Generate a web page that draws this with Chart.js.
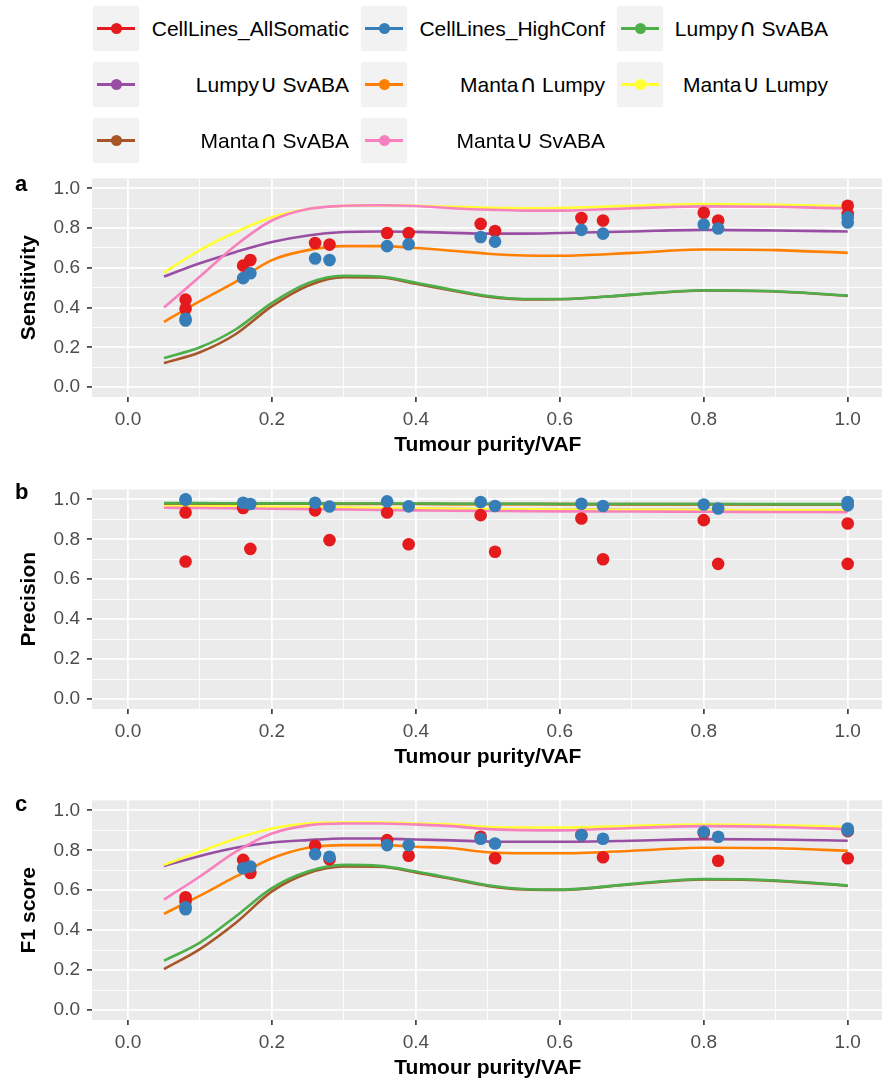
<!DOCTYPE html>
<html>
<head>
<meta charset="utf-8">
<script src="https://cdn.jsdelivr.net/npm/chart.js@4/dist/chart.umd.min.js"></script>
<style>
  html, body { margin: 0; padding: 0; background: #fff; overflow: hidden; }
  #fig { position: relative; width: 882px; height: 1080px; overflow: hidden;
         font-family: "Liberation Sans", Arial, Helvetica, sans-serif; }
  #fig canvas { position: absolute; left: 0; }
  .key { position: absolute; width: 46px; height: 45px; background: #F2F2F2; }
  .key .ln { position: absolute; left: 4px; right: 4px; top: 21px; height: 3px; }
  .key .pt { position: absolute; left: 18px; top: 17px; width: 11px; height: 11px; border-radius: 50%; }
  .lab { position: absolute; font-size: 21px; line-height: 21px; color: #000; white-space: nowrap; }
  .lab .sym { font-family: "DejaVu Sans", sans-serif; font-size: 24px; line-height: 21px; margin: 0 5px 0 1px; }
  .tag { position: absolute; font-weight: bold; font-size: 22px; line-height: 22px; color: #000; }
</style>
</head>
<body>
<div id="fig">
  <canvas id="panelA" width="890" height="302"></canvas>
  <canvas id="panelB" width="890" height="303"></canvas>
  <canvas id="panelC" width="890" height="303"></canvas>
</div>
<script>
// ---- series names and colours (ColorBrewer Set1) ----
const seriesNames = [
  "CellLines_AllSomatic", "CellLines_HighConf", "Lumpy\u2229SvABA",
  "Lumpy\u222ASvABA", "Manta\u2229Lumpy", "Manta\u222ALumpy",
  "Manta\u2229SvABA", "Manta\u222ASvABA"
];
const seriesColors = ["#E41A1C", "#377EB8", "#4DAF4A", "#984EA3", "#FF7F00", "#FFFF33", "#A65628", "#F781BF"];

// ---- axis ticks ----
const tickValues = [0, 0.1, 0.2, 0.3, 0.4, 0.5, 0.6, 0.7, 0.8, 0.9, 1.0];
const majorTicks = [0, 0.2, 0.4, 0.6, 0.8, 1.0];

// ---- cell line measurements ----
const purity = [0.08, 0.08, 0.16, 0.17, 0.26, 0.28, 0.36, 0.39, 0.49, 0.51, 0.63, 0.66, 0.80, 0.82, 1.0, 1.0];

const sensAllSomatic = [0.440, 0.394, 0.611, 0.639, 0.725, 0.717, 0.775, 0.775, 0.821, 0.785, 0.851, 0.838, 0.877, 0.838, 0.912, 0.871];
const sensHighConf   = [0.344, 0.335, 0.548, 0.573, 0.647, 0.639, 0.709, 0.719, 0.755, 0.732, 0.791, 0.772, 0.818, 0.798, 0.854, 0.828];

const precAllSomatic = [0.934, 0.689, 0.957, 0.752, 0.945, 0.796, 0.934, 0.775, 0.921, 0.738, 0.904, 0.700, 0.896, 0.677, 0.879, 0.677];
const precHighConf   = [1.000, 0.998, 0.983, 0.977, 0.983, 0.964, 0.990, 0.965, 0.987, 0.967, 0.978, 0.967, 0.974, 0.954, 0.987, 0.970];

const f1AllSomatic = [0.565, 0.545, 0.752, 0.686, 0.823, 0.755, 0.851, 0.773, 0.868, 0.760, 0.877, 0.765, 0.887, 0.748, 0.896, 0.760];
const f1HighConf   = [0.515, 0.505, 0.710, 0.719, 0.781, 0.768, 0.826, 0.826, 0.858, 0.834, 0.876, 0.858, 0.892, 0.868, 0.909, 0.900];

// ---- smoothed caller-combination curves (sampled along purity) ----
const curveX = [0.05, 0.1, 0.15, 0.2, 0.25, 0.3, 0.35, 0.4, 0.45, 0.5, 0.55, 0.6, 0.7, 0.8, 0.9, 1.0];

const sensLumpyAndSvaba = [0.146, 0.200, 0.291, 0.424, 0.523, 0.560, 0.556, 0.525, 0.490, 0.458, 0.443, 0.443, 0.465, 0.487, 0.482, 0.460];
const sensLumpyOrSvaba  = [0.556, 0.623, 0.680, 0.730, 0.763, 0.780, 0.783, 0.781, 0.776, 0.772, 0.772, 0.775, 0.783, 0.791, 0.788, 0.783];
const sensMantaAndLumpy = [0.328, 0.432, 0.531, 0.639, 0.689, 0.709, 0.709, 0.700, 0.686, 0.671, 0.662, 0.661, 0.675, 0.692, 0.689, 0.675];
const sensMantaOrLumpy  = [0.576, 0.689, 0.780, 0.854, 0.896, 0.912, 0.915, 0.912, 0.907, 0.902, 0.900, 0.901, 0.912, 0.921, 0.917, 0.909];
const sensMantaAndSvaba = [0.121, 0.175, 0.267, 0.407, 0.510, 0.553, 0.551, 0.520, 0.486, 0.455, 0.441, 0.442, 0.464, 0.486, 0.481, 0.459];
const sensMantaOrSvaba  = [0.400, 0.556, 0.714, 0.838, 0.896, 0.912, 0.915, 0.911, 0.900, 0.892, 0.888, 0.888, 0.900, 0.909, 0.907, 0.899];

const precLumpyAndSvaba = [0.981, 0.981, 0.980, 0.980, 0.980, 0.979, 0.979, 0.979, 0.978, 0.978, 0.978, 0.977, 0.977, 0.977, 0.976, 0.976];
const precLumpyOrSvaba  = [0.962, 0.961, 0.960, 0.959, 0.958, 0.956, 0.955, 0.953, 0.951, 0.950, 0.949, 0.948, 0.947, 0.946, 0.945, 0.944];
const precMantaAndLumpy = [0.979, 0.979, 0.978, 0.978, 0.978, 0.977, 0.977, 0.977, 0.976, 0.976, 0.976, 0.976, 0.975, 0.975, 0.975, 0.975];
const precMantaOrLumpy  = [0.967, 0.966, 0.965, 0.963, 0.961, 0.959, 0.957, 0.955, 0.953, 0.951, 0.950, 0.949, 0.948, 0.947, 0.946, 0.945];
const precMantaAndSvaba = [0.980, 0.980, 0.979, 0.979, 0.979, 0.978, 0.978, 0.978, 0.977, 0.977, 0.977, 0.976, 0.976, 0.976, 0.975, 0.975];
const precMantaOrSvaba  = [0.958, 0.957, 0.955, 0.953, 0.951, 0.949, 0.947, 0.945, 0.943, 0.942, 0.941, 0.940, 0.939, 0.938, 0.937, 0.936];

const f1LumpyAndSvaba = [0.247, 0.338, 0.470, 0.611, 0.694, 0.727, 0.722, 0.694, 0.660, 0.625, 0.606, 0.603, 0.632, 0.656, 0.649, 0.624];
const f1LumpyOrSvaba  = [0.722, 0.772, 0.813, 0.839, 0.851, 0.859, 0.859, 0.854, 0.850, 0.844, 0.843, 0.843, 0.848, 0.856, 0.854, 0.848];
const f1MantaAndLumpy = [0.482, 0.573, 0.669, 0.760, 0.813, 0.826, 0.826, 0.818, 0.810, 0.790, 0.785, 0.785, 0.798, 0.813, 0.810, 0.798];
const f1MantaOrLumpy  = [0.727, 0.793, 0.859, 0.909, 0.934, 0.939, 0.939, 0.934, 0.929, 0.917, 0.914, 0.914, 0.922, 0.929, 0.925, 0.917];
const f1MantaAndSvaba = [0.205, 0.305, 0.437, 0.594, 0.685, 0.719, 0.718, 0.689, 0.656, 0.622, 0.604, 0.602, 0.630, 0.654, 0.647, 0.622];
const f1MantaOrSvaba  = [0.553, 0.669, 0.793, 0.884, 0.925, 0.934, 0.934, 0.929, 0.921, 0.906, 0.901, 0.900, 0.912, 0.921, 0.917, 0.906];

// ---- legend (3 columns, filled row by row) ----
const fig = document.getElementById('fig');
const legendKeyX = [93, 361, 617];
const legendLabelRight = [349, 605, 828];
const legendRowY = [28, 84, 140];
seriesNames.forEach((name, i) => {
  const col = i % 3, row = Math.floor(i / 3);
  const key = document.createElement('div');
  key.className = 'key';
  key.style.left = legendKeyX[col] + 'px';
  key.style.top = (legendRowY[row] - 22.5) + 'px';
  const ln = document.createElement('div');
  ln.className = 'ln'; ln.style.background = seriesColors[i];
  const pt = document.createElement('div');
  pt.className = 'pt'; pt.style.background = seriesColors[i];
  key.appendChild(ln); key.appendChild(pt);
  fig.appendChild(key);
  const lab = document.createElement('div');
  lab.className = 'lab';
  name.split(/([\u2229\u222A])/).forEach(part => {
    if (part === '\u2229' || part === '\u222A') {
      const s = document.createElement('span');
      s.className = 'sym'; s.textContent = part;
      lab.appendChild(s);
    } else if (part) {
      lab.appendChild(document.createTextNode(part));
    }
  });
  lab.style.right = (882 - legendLabelRight[col]) + 'px';
  lab.style.top = (legendRowY[row] - 10.5) + 'px';
  fig.appendChild(lab);
});

// panel letters
[['a', 173], ['b', 481], ['c', 793]].forEach(([t, y]) => {
  const d = document.createElement('div');
  d.className = 'tag'; d.textContent = t;
  d.style.left = '15px'; d.style.top = y + 'px';
  fig.appendChild(d);
});

// ---- chart helpers ----
const FONT = '"Liberation Sans", Arial, Helvetica, sans-serif';
const isMajor = v => majorTicks.some(m => Math.abs(m - v) < 1e-6);

const panelBackground = {
  id: 'panelBackground',
  beforeDraw(chart) {
    const { ctx, chartArea: a } = chart;
    ctx.save();
    ctx.fillStyle = '#EBEBEB';
    ctx.fillRect(a.left, a.top, a.right - a.left, a.bottom - a.top);
    ctx.restore();
  }
};

function axis(titleText, isX) {
  return {
    type: 'linear',
    min: -0.05,
    max: 1.05,
    afterBuildTicks: s => { s.ticks = tickValues.map(v => ({ value: v })); },
    afterFit: s => { if (isX) s.height = 65; else s.width = 92; },
    border: { display: false },
    grid: {
      color: '#FFFFFF',
      lineWidth: c => (c.tick && isMajor(c.tick.value)) ? 1.8 : 0.9,
      drawTicks: true,
      tickLength: 5,
      tickWidth: 1.6,
      tickColor: c => (c.tick && isMajor(c.tick.value)) ? '#333333' : 'rgba(0,0,0,0)'
    },
    ticks: {
      autoSkip: false,
      maxRotation: 0,
      padding: isX ? 6 : 7,
      color: '#4D4D4D',
      font: { family: FONT, size: 19 },
      callback: v => isMajor(v) ? Number(v).toFixed(1) : ''
    },
    title: {
      display: true,
      text: titleText,
      color: '#000000',
      font: { family: FONT, size: 21, weight: 'bold' },
      padding: isX ? { top: 0, bottom: 4 } : { top: 17, bottom: 0 }
    }
  };
}

const toXY = (xs, ys) => xs.map((x, i) => ({ x, y: ys[i] }));

function curve(label, color, ys) {
  return {
    label, data: toXY(curveX, ys),
    showLine: true, borderColor: color, borderWidth: 2.6,
    pointRadius: 0, cubicInterpolationMode: 'monotone', fill: false
  };
}
function dots(label, color, ys) {
  return {
    label, data: toXY(purity, ys),
    showLine: false, pointRadius: 6.3, pointBackgroundColor: color,
    pointBorderWidth: 0, borderColor: color
  };
}

const TOP_PAD = 16;
function drawPanel(id, areaTop, yTitle, pts, curves) {
  const canvas = document.getElementById(id);
  canvas.style.top = (areaTop - TOP_PAD) + 'px';
  // first dataset is drawn on top
  const datasets = [
    dots(seriesNames[1], seriesColors[1], pts[1]),
    dots(seriesNames[0], seriesColors[0], pts[0]),
    curve(seriesNames[2], seriesColors[2], curves[0]),
    curve(seriesNames[6], seriesColors[6], curves[4]),
    curve(seriesNames[7], seriesColors[7], curves[5]),
    curve(seriesNames[5], seriesColors[5], curves[3]),
    curve(seriesNames[4], seriesColors[4], curves[2]),
    curve(seriesNames[3], seriesColors[3], curves[1])
  ];
  datasets.forEach((d, i) => { d.order = i; });
  new Chart(canvas, {
    type: 'scatter',
    data: { datasets },
    options: {
      responsive: false,
      animation: false,
      devicePixelRatio: 1,
      events: [],
      layout: { padding: { top: TOP_PAD, right: 0, bottom: 0, left: 0 } },
      plugins: { legend: { display: false }, tooltip: { enabled: false } },
      scales: {
        x: axis('Tumour purity/VAF', true),
        y: axis(yTitle, false)
      }
    },
    plugins: [panelBackground]
  });
}

drawPanel('panelA', 176, 'Sensitivity',
  [sensAllSomatic, sensHighConf],
  [sensLumpyAndSvaba, sensLumpyOrSvaba, sensMantaAndLumpy, sensMantaOrLumpy, sensMantaAndSvaba, sensMantaOrSvaba]);
drawPanel('panelB', 487, 'Precision',
  [precAllSomatic, precHighConf],
  [precLumpyAndSvaba, precLumpyOrSvaba, precMantaAndLumpy, precMantaOrLumpy, precMantaAndSvaba, precMantaOrSvaba]);
drawPanel('panelC', 798, 'F1 score',
  [f1AllSomatic, f1HighConf],
  [f1LumpyAndSvaba, f1LumpyOrSvaba, f1MantaAndLumpy, f1MantaOrLumpy, f1MantaAndSvaba, f1MantaOrSvaba]);
</script>
</body>
</html>
